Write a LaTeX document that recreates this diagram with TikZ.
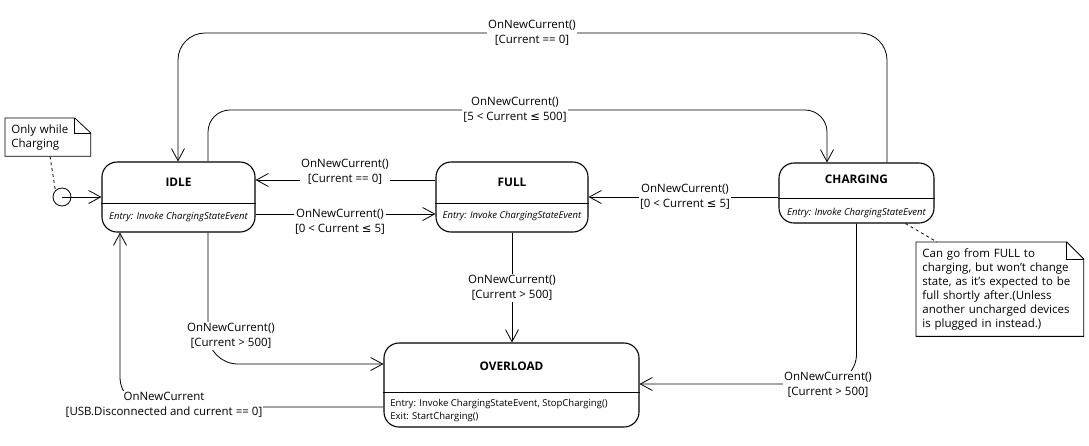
\documentclass[tikz,border=0pt]{standalone}
\usepackage{fontspec}
\setmainfont{Open Sans}
\newfontfamily\symfont{DejaVu Sans}
\usetikzlibrary{arrows.meta,positioning}

\begin{document}
\begin{tikzpicture}[
            x = 1pt, y = -1pt, % pixel grid, y downwards
            > = {Straight Barb[length=12pt,width=13pt]}, % open arrow head
            line width = 0.8pt,
            statebox/.style = {draw, rounded corners=15pt, line width=1.1pt, inner sep=0pt},
            title/.style = {font=\fontsize{11.8}{13}\selectfont\bfseries},
            entry/.style = {font=\fontsize{9.5}{13}\selectfont\itshape, inner sep=1pt},
            lbl/.style = {fill=white, align=center, inner sep=1pt, font=\fontsize{11.5}{15}\selectfont},
            notetext/.style = {align=left, inner sep=6pt, font=\fontsize{11.5}{14}\selectfont}
        ]
	\useasboundingbox (0,0) rectangle (1089,445);

	% states
	\node[statebox, minimum width=153pt, minimum height=70pt] (idle) at (178.5,197) {};
	\node[title] (idletitle) at (idle.north |- 0,182) {IDLE};
	\draw (idle.west |- 0,203) -- (idle.east |- 0,203);
	\node[entry] (idleentry) at (idle.north |- 0,217) {Entry: Invoke ChargingStateEvent};

	\node[statebox, minimum width=152pt, minimum height=70pt] (full) at (512,197) {};
	\node[title] (fulltitle) at (full.north |- 0,182) {FULL};
	\draw (full.west |- 0,203) -- (full.east |- 0,203);
	\node[entry] (fullentry) at (full.north |- 0,216) {Entry: Invoke ChargingStateEvent};

	\node[statebox, minimum width=155pt, minimum height=60pt] (charging) at (856.5,193) {};
	\node[title] (chargingtitle) at (charging.north |- 0,179) {CHARGING};
	\draw (charging.west |- 0,198) -- (charging.east |- 0,198);
	\node[entry] (chargingentry) at (charging.north |- 0,213) {Entry: Invoke ChargingStateEvent};

	\node[statebox, minimum width=255pt, minimum height=84pt] (overload) at (511.5,385) {};
	\node[title] (overloadtitle) at (overload.north |- 0,366) {OVERLOAD};
	\draw (overload.west |- 0,392) -- (overload.east |- 0,392);
	\node[entry, font=\fontsize{9.5}{13}\selectfont, align=left, anchor=west] (overloadentry) at (389,410.5)
		{Entry: Invoke ChargingStateEvent, StopCharging()\\Exit: StartCharging()};

	\node[draw, circle, minimum size=18pt, inner sep=0pt] (init) at (62,197) {};

	% transitions
	\draw[->] (init.center) -- (idle.west);
	\draw[->, rounded corners=27pt] (charging.north -| 887,0) -- (887,33) -- (178,33) -- (idle.north -| 178,0);
	\draw[->, rounded corners=22pt] (idle.north -| 208,0) -- (208,110) -- (827,110) -- (charging.north -| 827,0);
	\draw[->] (full.west |- 0,180) -- (idle.east |- 0,180);
	\draw[->] (idle.east |- 0,214) -- (full.west |- 0,214);
	\draw[->] (charging.west |- 0,197) -- (full.east |- 0,197);
	\draw[->] (full.south) -- (full.south |- overload.north);
	\draw[->, rounded corners=30pt] (idle.south -| 208,0) |- (overload.west |- 0,364);
	\draw[->, rounded corners=30pt] (charging.south) |- (overload.east |- 0,384);
	\draw[->, rounded corners=30pt] (overload.west |- 0,407) -| (idle.south -| 120,0);

	% guards
	\node[lbl] (ltop) at (532,33) {OnNewCurrent()\\{}[Current == 0]};
	\node[lbl] (linner) at (515,109.5) {OnNewCurrent()\\{}[5 < Current {\symfont ≤} 500]};
	\node[lbl] (ltoidle) at (345,171.5) {OnNewCurrent()\\{}[Current == 0]};
	\node[lbl] (ltofull) at (340,222) {OnNewCurrent()\\{}[0 < Current {\symfont ≤} 5]};
	\node[lbl] (lback) at (685,196.5) {OnNewCurrent()\\{}[0 < Current {\symfont ≤} 5]};
	\node[lbl] (lfullover) at (512,288) {OnNewCurrent()\\{}[Current > 500]};
	\node[lbl] (lidleover) at (231,336) {OnNewCurrent()\\{}[Current > 500]};
	\node[lbl] (lchargeover) at (828,385) {OnNewCurrent()\\{}[Current > 500]};
	\node[lbl] (lreset) at (164,405) {OnNewCurrent\\{}[USB.Disconnected and current == 0]};

	% notes
	\node[notetext, text width=73pt, minimum height=34pt, anchor=north west] (onlynote) at (5,118)
		{Only while\\Charging};
	\draw (onlynote.north west) -- ([xshift=-16pt]onlynote.north east) -- ([yshift=-15pt]onlynote.north east)
		-- (onlynote.south east) -- (onlynote.south west) -- cycle;
	\draw ([xshift=-16pt]onlynote.north east) |- ([yshift=-15pt]onlynote.north east);
	\draw[dashed] (onlynote.south -| 50,0) -- (init.north west);

	\node[notetext, text width=155pt, minimum height=86pt, anchor=north west] (chargenote) at (916,242)
		{Can go from FULL to\\charging, but won’t change\\state, as it’s expected to be\\full shortly after.(Unless\\another uncharged devices\\is plugged in instead.)};
	\draw (chargenote.north west) -- ([xshift=-17pt]chargenote.north east) -- ([yshift=-17pt]chargenote.north east)
		-- (chargenote.south east) -- (chargenote.south west) -- cycle;
	\draw ([xshift=-17pt]chargenote.north east) |- ([yshift=-17pt]chargenote.north east);
	\draw[dashed] ([xshift=49pt]charging.south) -- ([xshift=21pt]chargenote.north west);

\end{tikzpicture}
\end{document}
